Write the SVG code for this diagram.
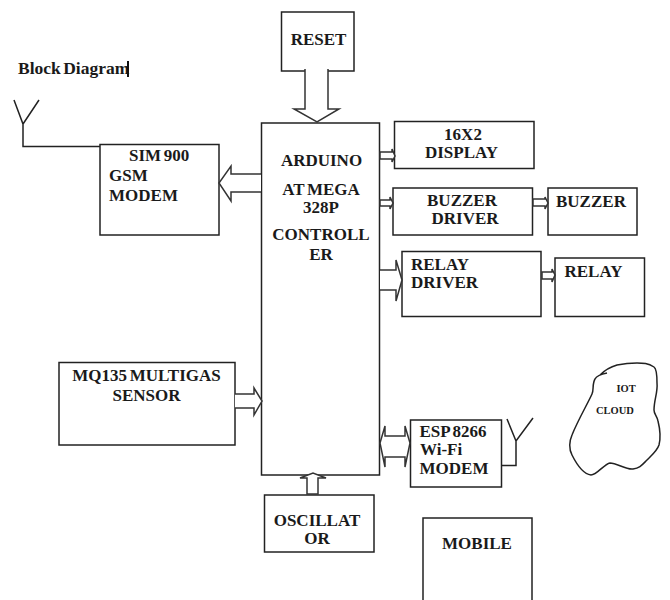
<svg xmlns="http://www.w3.org/2000/svg" width="670" height="600" viewBox="0 0 670 600">
<style>
text{font-family:"Liberation Serif","Times New Roman",serif;font-weight:bold;font-size:17px;word-spacing:-1.500px;fill:#1a1a1a}
.m{text-anchor:middle}
.s{font-size:10.500px;word-spacing:0}
.t{font-size:17.500px;word-spacing:-2px}
.b{fill:#fff;stroke:#222;stroke-width:1.500}
.c{fill:#fff;stroke:#333;stroke-width:1.500;stroke-linejoin:miter}
.l{fill:none;stroke:#222;stroke-width:1.500}
</style>
<rect width="670" height="600" fill="#fff"/>
<text class="t" x="18" y="74">Block Diagram</text>
<rect x="127" y="61" width="2" height="16" fill="#111"/>
<g id="arduino"><rect class="b" x="261.500" y="123" width="118" height="352"/>
<text class="m" x="321.500" y="166">ARDUINO</text><text class="m" x="321" y="195">AT MEGA</text><text class="m" x="321" y="213">328P</text><text class="m" x="321" y="240">CONTROLL</text><text class="m" x="321" y="260">ER</text></g>
<g id="reset"><rect class="b" x="281.500" y="12" width="72.500" height="59"/><text class="m" x="318.500" y="45">RESET</text></g>
<g id="gsm"><rect class="b" x="100" y="144.500" width="119" height="90.500"/><text x="129" y="161">SIM 900</text><text x="109" y="181">GSM</text><text x="109" y="201">MODEM</text></g>
<g id="display"><rect class="b" x="394.500" y="121.500" width="139.500" height="47"/><text class="m" x="463" y="140">16X2</text><text class="m" x="461.500" y="158">DISPLAY</text></g>
<g id="buzzer-driver"><rect class="b" x="393" y="188" width="139.500" height="47"/><text class="m" x="462" y="206">BUZZER</text><text class="m" x="465" y="224">DRIVER</text></g>
<g id="buzzer"><rect class="b" x="548" y="188" width="89" height="47"/><text x="556" y="207">BUZZER</text></g>
<g id="relay-driver"><rect class="b" x="402" y="251.500" width="139" height="65"/><text x="411" y="270">RELAY</text><text x="411" y="288">DRIVER</text></g>
<g id="relay"><rect class="b" x="555" y="258" width="89.500" height="58.500"/><text x="564.500" y="277">RELAY</text></g>
<g id="mq135"><rect class="b" x="59" y="362.500" width="176" height="82.500"/><text class="m" x="146.500" y="381">MQ135 MULTIGAS</text><text class="m" x="146.500" y="401">SENSOR</text></g>
<g id="esp8266"><rect class="b" x="410.500" y="420" width="91" height="67"/><text x="419.500" y="437">ESP 8266</text><text x="420" y="455">Wi-Fi</text><text x="419.500" y="474">MODEM</text></g>
<g id="oscillator"><rect class="b" x="264.500" y="495" width="109.500" height="57"/><text class="m" x="317" y="526">OSCILLAT</text><text class="m" x="317" y="544">OR</text></g>
<g id="mobile"><rect class="b" x="423" y="518" width="109" height="84"/><text class="m" x="477" y="549">MOBILE</text></g>
<g id="iot-cloud"><path class="l" d="M607 373C602 374 597 375 595 379C592 384 594 390 592 394C588 403 578 420 572 435C569 442 569 449 572 455C576 463 583 474 591 475C597 475 604 464 610 463C617 463 626 470 633 469C640 468 642 465 647 460C652 455 657 451 659 445C661 437 660 429 658 421C657 416 654 414 654 410C654 400 658 392 657 383C657 376 657 369 654 367C648 363 643 363 637 363C630 363 622 364 617 365C610 367 604 371 600 375"/><text class="s" x="616.500" y="392">IOT</text><text class="s" x="596" y="414">CLOUD</text></g>
<g id="connectors">
<path class="l" d="M14 100L23 124L39 100M23 124V146.500H100"/>
<path class="l" d="M507 419L516 441L533 418M516 441V465.500H501"/>
<path class="c" d="M305 69V109H294L317 122L339 109H328V69"/>
<path class="c" d="M261 174H231V166L219 183L231 201V192H261"/>
<path class="c" d="M380 152H392V149L395 156L392 162V159H380Z"/>
<path class="c" d="M380 200H390V197L393 203L390 209V206H380Z"/>
<path class="c" d="M533 199H545V197L548 203L545 209V206H533Z"/>
<path class="c" d="M542 272H552V269L555 275L552 282V279H542Z"/>
<path class="c" d="M380 270H396V260L402 280L396 301V290H380"/>
<path class="c" d="M235 394H254V388L262 401L254 415V408H235"/>
<path class="c" d="M385 436H405V426L410 443L405 467V457H385V467L380 443L385 426Z"/>
<path class="c" d="M307 494V478H300L313 473L326 478H318V494Z"/>
</g>
</svg>
